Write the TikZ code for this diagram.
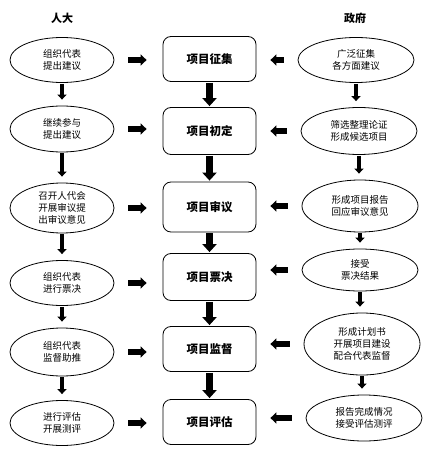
\documentclass[tikz,border=0pt]{standalone}
\usepackage{fontspec}
\setmainfont{Noto Sans CJK SC}
\usetikzlibrary{shapes.geometric, arrows.meta, positioning}

\begin{document}
\begin{tikzpicture}[x=1pt, y=-1pt,
    lell/.style={ellipse, draw, line width=0.8pt, minimum width=104, minimum height=#1,
      inner sep=0pt, align=center, font=\fontsize{9.5}{12}\selectfont},
    lell/.default=46,
    rell/.style={lell=#1, minimum width=116},
    rell/.default=46,
    stage/.style={rectangle, draw, rounded corners=8pt, line width=0.8pt, minimum width=93,
      minimum height=#1, font=\fontsize{11.5}{13}\selectfont\bfseries},
    stage/.default=46,
    harrow/.style={-{Triangle[length=6pt, width=11pt]}, line width=5.5pt},
    varrow/.style={-{Triangle[length=8pt, width=14pt]}, line width=7.5pt},
    sarrow/.style={-{Triangle[length=5pt, width=9pt]}, line width=4pt}]
    \useasboundingbox (0,0) rectangle (431,457);
    % column heads
    \node[font=\fontsize{11}{13}\selectfont\bfseries] (npc) at (62,18) {人大};
    \node[font=\fontsize{11}{13}\selectfont\bfseries] (gov) at (355,18) {政府};
    % left column
    \node[lell=45] (l1) at (62,60) {组织代表\\提出建议};
    \node[lell=46] (l2) at (62,129) {继续参与\\提出建议};
    \node[lell=50] (l3) at (62,208) {召开人代会\\开展审议提\\出审议意见};
    \node[lell=45] (l4) at (62,283) {组织代表\\进行票决};
    \node[lell=48] (l5) at (62,352) {组织代表\\监督助推};
    \node[lell=45] (l6) at (62,423) {进行评估\\开展测评};
    % middle column
    \node[stage=45] (b1) at (209.5,59) {项目征集};
    \node[stage=47] (b2) at (209.5,131) {项目初定};
    \node[stage=50] (b3) at (209.5,207) {项目审议};
    \node[stage=47] (b4) at (209.5,277) {项目票决};
    \node[stage=45] (b5) at (209.5,349) {项目监督};
    \node[stage=45] (b6) at (209.5,422) {项目评估};
    % right column
    \node[rell=45] (r1) at (356,60) {广泛征集\\各方面建议};
    \node[rell=47] (r2) at (359,131) {筛选整理论证\\形成候选项目};
    \node[rell=52] (r3) at (360,206) {形成项目报告\\回应审议意见};
    \node[rell=42] (r4) at (360,270) {接受\\票决结果};
    \node[rell=62] (r5) at (362,344) {形成计划书\\开展项目建设\\配合代表监督};
    \node[rell=46] (r6) at (364,418) {报告完成情况\\接受评估测评};
    % arrows
    \foreach \i in {1,...,6} {
      \draw[harrow, shorten <=14pt, shorten >=16pt] (l\i.east) -- (l\i.east -| b\i.west);
      \draw[harrow, shorten <=14pt, shorten >=14pt] (r\i.west) -- (r\i.west -| b\i.east);
    }
    \foreach \i/\j in {1/2, 2/3, 3/4, 4/5, 5/6} {
      \draw[sarrow, shorten <=1pt, shorten >=6pt] (l\i.south) -- (l\j.north);
      \draw[varrow, shorten <=1pt, shorten >=1pt] (b\i.south) -- (b\j.north);
      \draw[sarrow, shorten <=1pt, shorten >=6pt] (r\i.south) -- (r\i.south |- r\j.north);
    }
\end{tikzpicture}
\end{document}
